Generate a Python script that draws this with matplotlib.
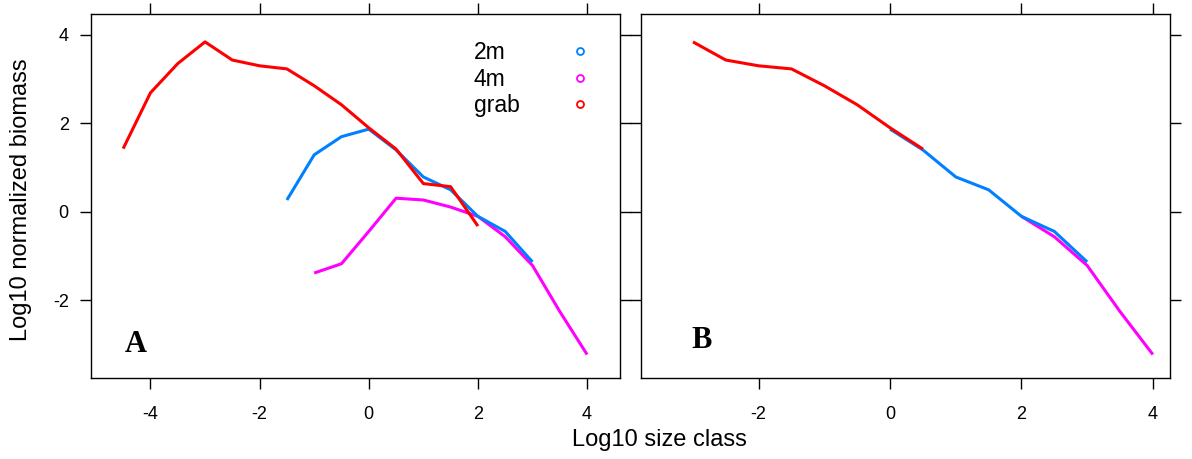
import numpy as np
import matplotlib.pyplot as plt

# size classes (log10) and normalized biomass (log10) per sampling gear
x_2m = [-1.5, -1.0, -0.5, 0.0, 0.5, 1.0, 1.5, 2.0, 2.5, 3.0]
y_2m = [0.27, 1.29, 1.70, 1.87, 1.40, 0.79, 0.50, -0.10, -0.44, -1.13]

x_4m = [-1.0, -0.5, 0.0, 0.5, 1.0, 1.5, 2.0, 2.5, 3.0, 3.5, 4.0]
y_4m = [-1.38, -1.17, -0.44, 0.31, 0.27, 0.11, -0.10, -0.56, -1.21, -2.25, -3.22]

x_grab = [-4.5, -4.0, -3.5, -3.0, -2.5, -2.0, -1.5, -1.0, -0.5, 0.0, 0.5, 1.0, 1.5, 2.0]
y_grab = [1.43, 2.69, 3.35, 3.84, 3.43, 3.30, 3.23, 2.85, 2.42, 1.90, 1.42, 0.64, 0.57, -0.32]

labels = ['2m', '4m', 'grab']
colors = ['#0080ff', '#ff00ff', '#ff0000']

# ranges kept for the combined spectrum (panel B)
keep = {'2m': (0.0, 3.0), '4m': (2.0, 4.0), 'grab': (-3.0, 0.5)}

plt.rcParams['font.family'] = ['Liberation Sans', 'DejaVu Sans']
plt.rcParams['axes.unicode_minus'] = False

fig = plt.figure(figsize=(11.92, 4.59), dpi=100)
axA = fig.add_axes([0.0763, 0.1765, 0.4437, 0.793])
axB = fig.add_axes([0.5378, 0.1765, 0.4437, 0.793])

series = [(x_2m, y_2m), (x_4m, y_4m), (x_grab, y_grab)]
order = [1, 0, 2]  # magenta under blue under red

for i in order:
    xs, ys = series[i]
    axA.plot(xs, ys, color=colors[i], lw=2.2, solid_capstyle='butt')
    lo, hi = keep[labels[i]]
    xs = np.array(xs)
    ys = np.array(ys)
    m = (xs >= lo) & (xs <= hi)
    axB.plot(xs[m], ys[m], color=colors[i], lw=2.2, solid_capstyle='butt')

axA.set_xlim(-5.09, 4.6)
axB.set_xlim(-3.79, 4.26)
for ax in (axA, axB):
    ax.set_ylim(-3.75, 4.47)
    ax.set_yticks([-2, 0, 2, 4])
    ax.set_xticks([-4, -2, 0, 2, 4] if ax is axA else [-2, 0, 2, 4])
    ax.tick_params(direction='out', length=8, width=1, labelsize=13,
                   top=True, right=True, color='black')
    ax.tick_params(axis='x', pad=12)
    ax.tick_params(axis='y', pad=8)
    for s in ax.spines.values():
        s.set_linewidth(1)

axB.tick_params(labelleft=False)
fig.text(0.0176, 0.564, 'Log10 normalized biomass', fontsize=17,
         rotation=90, ha='center', va='center')
fig.text(0.553, 0.041, 'Log10 size class', fontsize=17, ha='center', va='center')

axA.text(0.085, 0.093, 'A', transform=axA.transAxes, fontsize=22,
         fontweight='bold', family='Liberation Serif', ha='center', va='center')
axB.text(0.115, 0.104, 'B', transform=axB.transAxes, fontsize=22,
         fontweight='bold', family='Liberation Serif', ha='center', va='center')

# key
ky = [0.893, 0.819, 0.748]
for lab, c, yy in zip(labels, colors, ky):
    axA.text(0.724, yy, lab, transform=axA.transAxes, fontsize=16.5,
             va='center', ha='left')
    axA.plot([0.925], [yy + 0.004], transform=axA.transAxes, marker='o',
             ms=5, mfc='none', mec=c, mew=1.3)

fig.savefig('out.png', dpi=100)
